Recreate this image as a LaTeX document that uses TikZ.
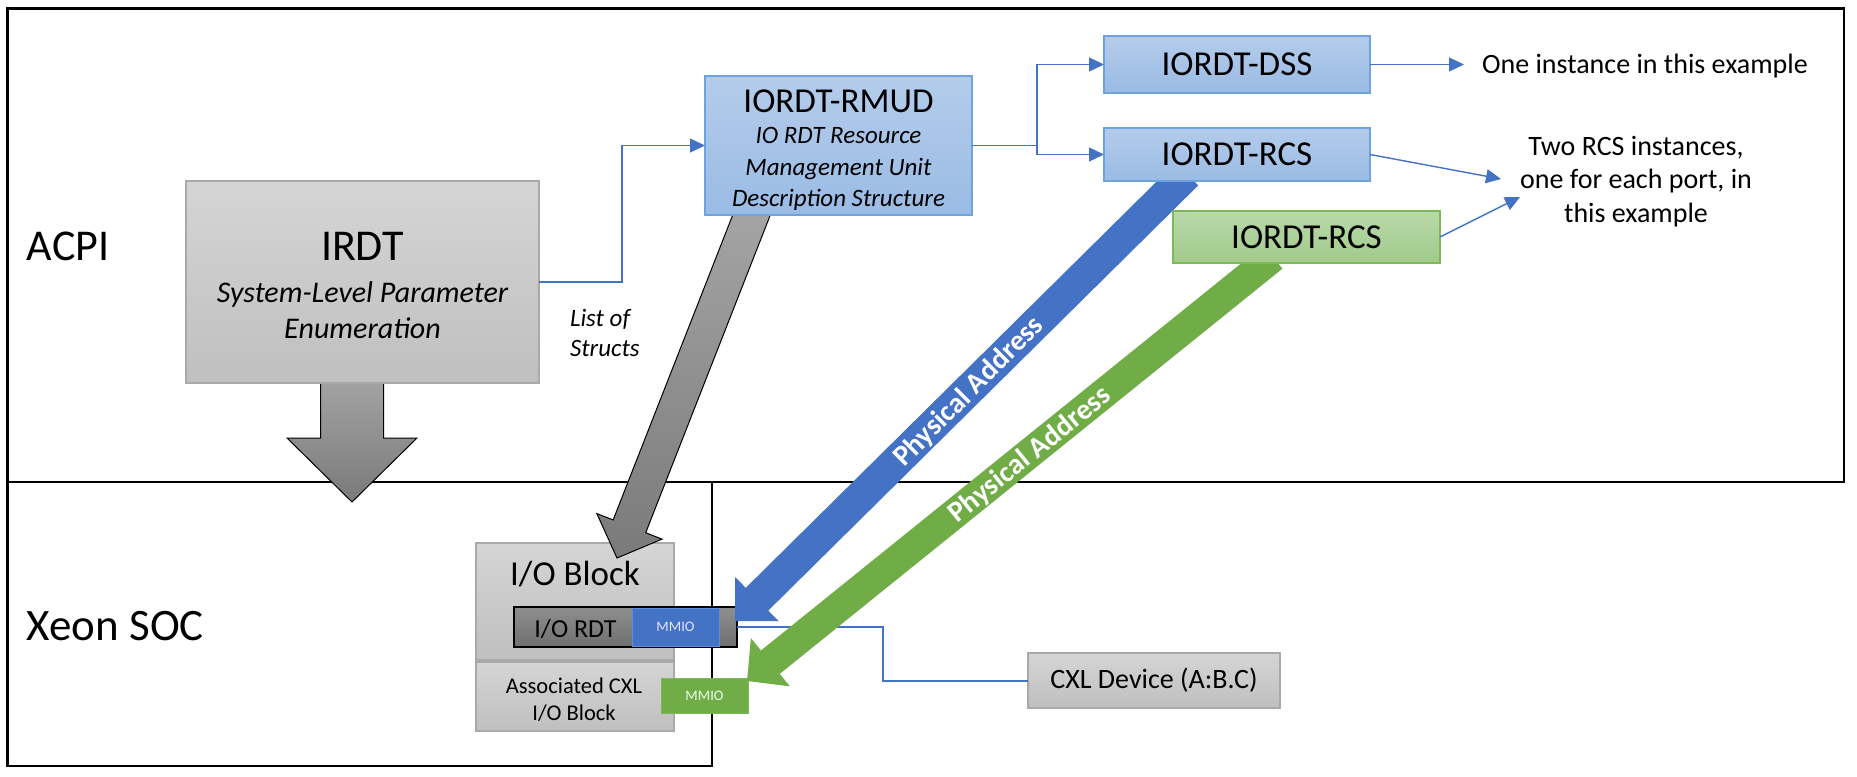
\documentclass[tikz,border=0pt]{standalone}
\usepackage{fontspec}
\setmainfont{Carlito}
\usetikzlibrary{calc,arrows.meta}
\definecolor{lnblue}{HTML}{4472C4}
\definecolor{bbT}{HTML}{B4CCEB}
\definecolor{bbB}{HTML}{9ABBE4}
\definecolor{bbD}{HTML}{6FA3DD}
\definecolor{gbT}{HTML}{B9D9AA}
\definecolor{gbB}{HTML}{A1CA8B}
\definecolor{gbD}{HTML}{7CBA58}
\definecolor{grT}{HTML}{D5D5D5}
\definecolor{grB}{HTML}{BFBFBF}
\definecolor{grD}{HTML}{A9A9A9}
\definecolor{fatblueC}{HTML}{4472C4}
\definecolor{fatgreenC}{HTML}{70AD47}
\definecolor{fgT}{HTML}{A6A6A6}
\definecolor{fgB}{HTML}{7A7A7A}
\definecolor{rdtT}{HTML}{8E8E8E}
\definecolor{rdtB}{HTML}{707070}
\definecolor{mmioB}{HTML}{4472C4}
\definecolor{mmioBD}{HTML}{5B8FD9}
\definecolor{mmioG}{HTML}{70AD47}
\definecolor{mmioGD}{HTML}{7DB85A}

\newcommand{\fs}[1]{\fontsize{#1}{#1}\selectfont}
% #1 id, #2 start, #3 tip, #4 shaft half width, #5 head half width, #6 head length, #7 style
\newcommand{\fatarrow}[7]{%
  \coordinate (#1-n) at ($(#3)!#6!(#2)$);
  \path[#7] ($(#2)!#4!90:(#3)$) -- ($(#1-n)!#4!-90:(#2)$) -- ($(#1-n)!#5!-90:(#2)$) -- (#3)
     -- ($(#1-n)!#5!90:(#2)$) -- ($(#1-n)!#4!90:(#2)$) -- ($(#2)!#4!-90:(#3)$) -- cycle;
}

\tikzset{
  frame/.style={draw=black, line width=2.5pt},
  boxbase/.style={rectangle, inner sep=0pt, outer sep=0pt, align=center, text=black},
  bluebox/.style={boxbase, draw=bbD, line width=1.5pt, top color=bbT, bottom color=bbB},
  greenbox/.style={boxbase, draw=gbD, line width=1.5pt, top color=gbT, bottom color=gbB},
  greybox/.style={boxbase, draw=grD, line width=1.5pt, top color=grT, bottom color=grB},
  lbl/.style={inner sep=0pt, outer sep=0pt, anchor=base},
  conn/.style={draw=lnblue, line width=1.4pt, -{Triangle[length=15pt,width=14pt]}},
  plainconn/.style={draw=lnblue, line width=2pt},
  fatgrey/.style={draw=black, line width=1pt, top color=fgT, bottom color=fgB},
  fatbluearrow/.style={fill=fatblueC},
  fatgreenarrow/.style={fill=fatgreenC},
  padr/.style={inner sep=0pt, text=white, font=\fs{29}\bfseries},
}

\begin{document}
\begin{tikzpicture}[x=1pt,y=-1pt]
\useasboundingbox (0,0) rectangle (1857,776);
% frames
\draw[frame] (7.5,8.5) rectangle (1844,482);
\draw[frame] (7.5,482) rectangle (712,766);
\node[lbl, anchor=base west, font=\fs{44}] (acpi) at (27,260) {ACPI};
\node[lbl, anchor=base west, font=\fs{45}] (xeon) at (27,640) {Xeon SOC};

% lower blocks
\node[greybox, minimum width=198pt, minimum height=117pt] (iob) at (575,601.5) {};
\node[lbl, font=\fs{35}] (iobt) at (575,585) {I/O Block};
\node[greybox, minimum width=198pt, minimum height=69pt] (cxlb) at (575,696.5) {};
\node[lbl, font=\fs{22.5}] (cxlb1) at (574,693) {Associated CXL};
\node[lbl, font=\fs{22.5}] (cxlb2) at (574,720) {I/O Block};
\node[boxbase, draw=black, line width=1.5pt, top color=rdtT, bottom color=rdtB, minimum width=223pt, minimum height=40pt] (rdt) at (625.5,627) {};
\node[lbl, font=\fs{26}] (rdtt) at (575.5,637) {I/O RDT};
\node[boxbase, draw=mmioBD, line width=1pt, fill=mmioB, minimum width=87pt, minimum height=38pt, font=\fs{14.5}, text=white!90!blue] (mmio1) at (675.5,627) {MMIO};
\node[boxbase, draw=mmioGD, line width=1pt, fill=mmioG, minimum width=87pt, minimum height=35pt, font=\fs{14.5}, text=white!92!green] (mmio2) at (704.5,695.5) {MMIO};
\node[greybox, minimum width=252pt, minimum height=55pt, font=\fs{28}] (cxl) at (1154,680.5) {CXL Device (A:B.C)};
\draw[plainconn] (rdt.east) -- ++(146,0) |- (cxl.west);

% fat arrows
\coordinate (dA-s) at (352,370); \coordinate (dA-t) at (352,502);
\fatarrow{dA}{dA-s}{dA-t}{31.5pt}{65pt}{64pt}{fatgrey}
\coordinate (gA-s) at (757,201); \coordinate (gA-t) at (617,558);
\fatarrow{gA}{gA-s}{gA-t}{17.5pt}{35pt}{34pt}{fatgrey}
\coordinate (bA-s) at (1187,174); \coordinate (bA-t) at (735,621);
\fatarrow{bA}{bA-s}{bA-t}{16pt}{31pt}{31pt}{fatbluearrow}
\coordinate (nA-s) at (1273,257); \coordinate (nA-t) at (747,681);
\fatarrow{nA}{nA-s}{nA-t}{15pt}{31pt}{30pt}{fatgreenarrow}
\node[padr, rotate=45] (pa1) at (969,392) {Physical Address};
\node[padr, rotate=39] (pa2) at (1030,455) {Physical Address};

% upper boxes
\node[greybox, minimum width=353pt, minimum height=202pt] (irdt) at (362.5,282) {};
\node[lbl, font=\fs{44}] (irdt1) at (362.5,260) {IRDT};
\node[lbl, font=\fs{30}\itshape] (irdt2) at (362.5,302) {System-Level Parameter};
\node[lbl, font=\fs{30}\itshape] (irdt3) at (362.5,338) {Enumeration};

\node[bluebox, minimum width=267pt, minimum height=139pt] (rmud) at (838.5,145.5) {};
\node[lbl, font=\fs{35}] (rmud1) at (838.5,112) {IORDT-RMUD};
\node[lbl, font=\fs{25}\itshape] (rmud2) at (838.5,143) {IO RDT Resource};
\node[lbl, font=\fs{25}\itshape] (rmud3) at (838.5,175) {Management Unit};
\node[lbl, font=\fs{25}\itshape] (rmud4) at (838.5,206) {Description Structure};

\node[bluebox, minimum width=266pt, minimum height=57pt, font=\fs{35}] (dss) at (1237,64.5) {IORDT-DSS};
\node[bluebox, minimum width=266pt, minimum height=53pt, font=\fs{35}] (rcs) at (1237,154.5) {IORDT-RCS};
\node[greenbox, minimum width=267pt, minimum height=52pt, font=\fs{35}] (rcsg) at (1306.5,237) {IORDT-RCS};

% right texts
\node[lbl, anchor=base west, font=\fs{28}] (one) at (1482,74) {One instance in this example};
\node[lbl, font=\fs{28}] (two1) at (1636,155) {Two RCS instances,};
\node[lbl, font=\fs{28}] (two2) at (1636,188) {one for each port, in};
\node[lbl, font=\fs{28}] (two3) at (1636,222) {this example};
\node[lbl, anchor=base west, font=\fs{25}\itshape] (list1) at (570,326) {List of};
\node[lbl, anchor=base west, font=\fs{25}\itshape] (list2) at (570,356) {Structs};

% connectors
\draw[conn] (irdt.east) -- ++(83,0) |- (rmud.west);
\draw[conn] (rmud.east) -- ++(65,0) coordinate (br) |- (dss.west);
\draw[conn] (br) |- (rcs.west);
\draw[conn, shorten >=18pt] (dss.east) -- (dss.east -| one.west);
\coordinate (twoA) at (1501,179);
\coordinate (twoB) at (1520,197);
\draw[conn] (rcs.east) -- (twoA);
\draw[conn] (rcsg.east) -- (twoB);
\end{tikzpicture}
\end{document}
